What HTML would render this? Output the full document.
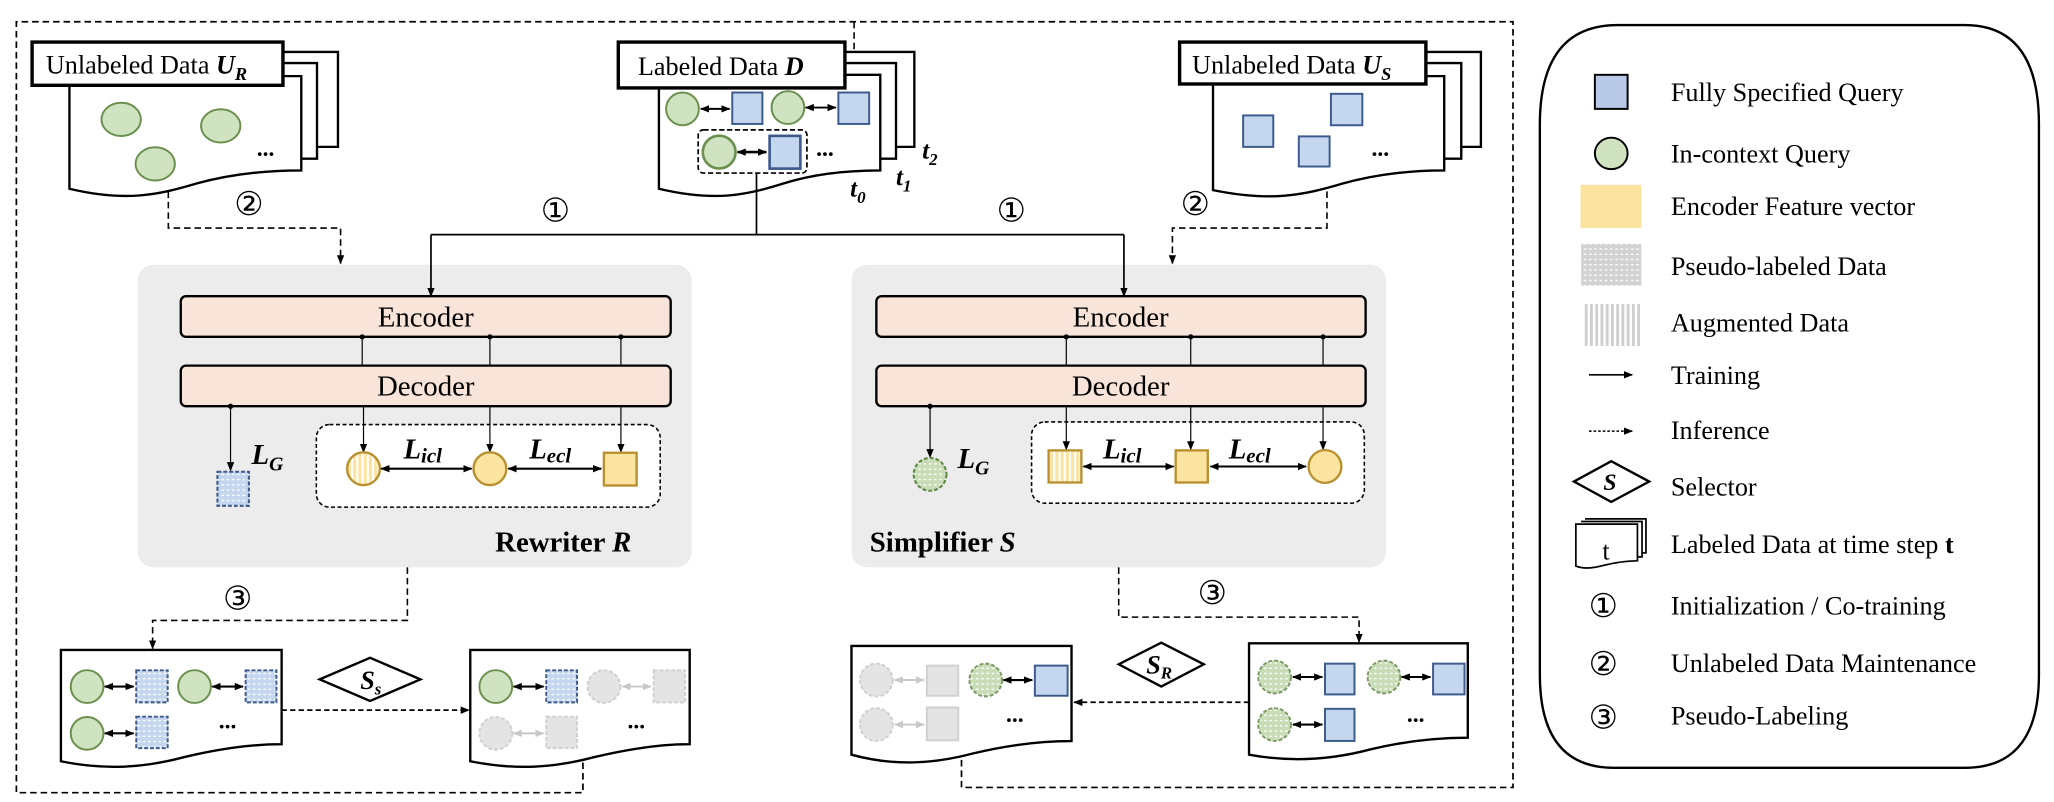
<!DOCTYPE html>
<html><head><meta charset="utf-8"><style>
html,body{margin:0;padding:0;background:#fff;}
svg{display:block;}
.t{font-family:"Liberation Serif",serif;fill:#000;}
.n{font-family:"DejaVu Sans",sans-serif;fill:#000;}
</style></head><body>
<svg width="2054" height="802" viewBox="0 0 1568 612" xmlns="http://www.w3.org/2000/svg">
<defs>
<marker id="ah" viewBox="0 0 10 10" refX="9" refY="5" markerWidth="7" markerHeight="7" markerUnits="userSpaceOnUse" orient="auto-start-reverse"><path d="M0,1 L10,5 L0,9 Z" fill="#000"/></marker>
<marker id="ahg" viewBox="0 0 10 10" refX="9" refY="5" markerWidth="7" markerHeight="7" markerUnits="userSpaceOnUse" orient="auto-start-reverse"><path d="M0,1 L10,5 L0,9 Z" fill="#c8c8c8"/></marker>
<pattern id="dotB" width="4" height="4" patternUnits="userSpaceOnUse"><rect width="4" height="4" fill="#c5d7ee"/><rect x="1" y="1.5" width="2" height="1" fill="#fff"/></pattern>
<pattern id="dotG" width="4" height="4" patternUnits="userSpaceOnUse"><rect width="4" height="4" fill="#c8dcb6"/><rect x="1" y="1.5" width="2" height="1" fill="#fff"/></pattern>
<pattern id="dotK" width="4" height="4" patternUnits="userSpaceOnUse"><rect width="4" height="4" fill="#d2d2d2"/><rect x="1" y="1.5" width="2" height="1" fill="#fff"/></pattern>
<pattern id="strY" width="4" height="4" patternUnits="userSpaceOnUse"><rect width="4" height="4" fill="#fbe3a0"/><rect width="1.6" height="4" fill="#fff"/></pattern>
<pattern id="strK" width="4" height="4" patternUnits="userSpaceOnUse"><rect width="4" height="4" fill="#cfcfcf"/><rect width="1.8" height="4" fill="#fff"/></pattern>
</defs>

<!-- panels first -->
<rect x="105" y="202" width="423" height="231" rx="12" fill="#ececec"/>
<rect x="650" y="202" width="408" height="231" rx="12" fill="#ececec"/>

<!-- outer dashed loop -->
<path d="M445,582 V605 H12.5 V16.5 H1155 V601 H734 V578" fill="none" stroke="#000" stroke-width="1.3" stroke-dasharray="5,3"/>
<line x1="652" y1="16.5" x2="652" y2="57" stroke="#000" stroke-width="1.2" stroke-dasharray="5,3" marker-end="url(#ah)"/>

<!-- U_R doc -->
<g fill="#fff" stroke="#000" stroke-width="1.8">
<path d="M216,39.5 H258 V112 H242"/>
<path d="M216,48 H242 V121 H230"/>
<path d="M53,58 H230 V130 C200,130 175,133 150,140 C120,149 95,154 53,144 Z"/>
<rect x="24.5" y="32" width="191.5" height="33" stroke-width="2.6"/>
</g>
<text class="t" x="35" y="56" font-size="20">Unlabeled Data <tspan font-weight="bold" font-style="italic">U</tspan><tspan font-weight="bold" font-style="italic" font-size="14" dy="5">R</tspan></text>
<g fill="#cfe3c0" stroke="#6b8f4e" stroke-width="1.5">
<ellipse cx="92.5" cy="91" rx="15" ry="12.7"/><ellipse cx="168.5" cy="96" rx="15" ry="12.7"/><ellipse cx="118.5" cy="125" rx="15" ry="12.7"/>
</g>
<text class="t" x="196" y="119" font-size="18" font-weight="bold">...</text>

<!-- Labeled D doc -->
<g fill="#fff" stroke="#000" stroke-width="1.8">
<path d="M645,39.5 H698 V112 H684"/>
<path d="M645,48 H684 V121 H672"/>
<path d="M503,57 H672 V130 C645,130 620,133 598,140 C570,149 545,154 503,144 Z"/>
<rect x="472" y="32" width="173" height="35" stroke-width="2.6"/>
</g>
<text class="t" x="487" y="57" font-size="20">Labeled Data <tspan font-weight="bold" font-style="italic">D</tspan></text>
<rect x="533" y="99" width="83" height="33" rx="4" fill="none" stroke="#000" stroke-width="1.3" stroke-dasharray="4,2"/>
<g fill="#cfe3c0" stroke="#6b8f4e" stroke-width="1.5"><circle cx="521" cy="83" r="12.5"/><circle cx="601.5" cy="82" r="12.5"/><circle cx="549" cy="116" r="12.5" stroke-width="2"/></g>
<g fill="#c5d7ee" stroke="#3c5a8c" stroke-width="1.5"><rect x="559" y="70.5" width="23" height="24"/><rect x="640" y="70.5" width="23.5" height="24"/><rect x="587.5" y="103.6" width="23.5" height="25" stroke-width="2"/></g>
<g stroke="#000" stroke-width="1.5"><line x1="535" y1="83" x2="557" y2="83" marker-start="url(#ah)" marker-end="url(#ah)"/><line x1="615" y1="82" x2="638" y2="82" marker-start="url(#ah)" marker-end="url(#ah)"/><line x1="563" y1="116" x2="585" y2="116" marker-start="url(#ah)" marker-end="url(#ah)" stroke-width="2"/></g>
<text class="t" x="623" y="119" font-size="18" font-weight="bold">...</text>
<g class="t" font-weight="bold" font-style="italic" font-size="19">
<text x="704" y="121">t<tspan font-size="13" dy="5">2</tspan></text>
<text x="684" y="141">t<tspan font-size="13" dy="5">1</tspan></text>
<text x="649" y="150">t<tspan font-size="13" dy="5">0</tspan></text>
</g>

<!-- U_S doc -->
<g fill="#fff" stroke="#000" stroke-width="1.8">
<path d="M1088.5,39.5 H1130.5 V112 H1115.5"/>
<path d="M1088.5,48 H1115.5 V121 H1102.5"/>
<path d="M926,58 H1102.5 V130 C1075,130 1050,133 1025,140 C995,149 970,154 926,145 Z"/>
<rect x="900.5" y="32" width="188" height="32" stroke-width="2.6"/>
</g>
<text class="t" x="910" y="56" font-size="20">Unlabeled Data <tspan font-weight="bold" font-style="italic">U</tspan><tspan font-weight="bold" font-style="italic" font-size="14" dy="5">S</tspan></text>
<g fill="#c5d7ee" stroke="#3c5a8c" stroke-width="1.5"><rect x="949" y="88" width="23" height="24"/><rect x="1016" y="71.5" width="24" height="24"/><rect x="991.5" y="104" width="23.5" height="23"/></g>
<text class="t" x="1047" y="119" font-size="18" font-weight="bold">...</text>

<!-- dashed ② lines -->
<path d="M128.5,146 V174 H260 V201" fill="none" stroke="#000" stroke-width="1.2" stroke-dasharray="5,3" marker-end="url(#ah)"/>
<path d="M1013,146 V174 H895 V201" fill="none" stroke="#000" stroke-width="1.2" stroke-dasharray="5,3" marker-end="url(#ah)"/>
<text class="n" x="190" y="164" font-size="25" text-anchor="middle">②</text>
<text class="n" x="912.5" y="164" font-size="25" text-anchor="middle">②</text>

<!-- ① lines -->
<path d="M577.5,132 V179" fill="none" stroke="#000" stroke-width="1.3"/>
<path d="M329,179 H858" fill="none" stroke="#000" stroke-width="1.3"/>
<line x1="329" y1="179" x2="329" y2="226" stroke="#000" stroke-width="1.3" marker-end="url(#ah)"/>
<line x1="858" y1="179" x2="858" y2="226" stroke="#000" stroke-width="1.3" marker-end="url(#ah)"/>
<text class="n" x="424" y="169" font-size="25" text-anchor="middle">①</text>
<text class="n" x="772" y="169" font-size="25" text-anchor="middle">①</text>

<g fill="#f8e4d8" stroke="#000" stroke-width="1.8">
<rect x="138" y="226" width="374" height="31" rx="4"/><rect x="138" y="279" width="374" height="31" rx="4"/>
<rect x="669" y="226" width="373.5" height="31" rx="4"/><rect x="669" y="279" width="373.5" height="31" rx="4"/>
</g>
<g class="t" font-size="22" text-anchor="middle">
<text x="325" y="249">Encoder</text><text x="325" y="302">Decoder</text>
<text x="855.5" y="249">Encoder</text><text x="855.5" y="302">Decoder</text>
</g>
<rect x="241.5" y="324" width="262.5" height="63" rx="10" fill="#fff" stroke="#000" stroke-width="1.2" stroke-dasharray="3,2"/>
<rect x="787.5" y="322" width="254" height="62" rx="10" fill="#fff" stroke="#000" stroke-width="1.2" stroke-dasharray="3,2"/>
<g stroke="#000" stroke-width="0.9" fill="none">
<path d="M276.5,257 V279 M374,257 V279 M474,257 V279 M814,257 V279 M909,257 V279 M1010,257 V279"/>
</g>
<g fill="#000"><circle cx="276.5" cy="257" r="2"/><circle cx="374" cy="257" r="2"/><circle cx="474" cy="257" r="2"/><circle cx="814" cy="257" r="2"/><circle cx="909" cy="257" r="2"/><circle cx="1010" cy="257" r="2"/><circle cx="176" cy="310" r="2"/><circle cx="710" cy="310" r="2"/></g>
<g stroke="#000" stroke-width="0.9">
<line x1="176" y1="310" x2="176" y2="359" marker-end="url(#ah)"/>
<line x1="277.5" y1="310" x2="277.5" y2="345" marker-end="url(#ah)"/>
<line x1="374" y1="310" x2="374" y2="345" marker-end="url(#ah)"/>
<line x1="474" y1="310" x2="474" y2="345" marker-end="url(#ah)"/>
<line x1="710" y1="310" x2="710" y2="349" marker-end="url(#ah)"/>
<line x1="814" y1="310" x2="814" y2="343" marker-end="url(#ah)"/>
<line x1="909" y1="310" x2="909" y2="343" marker-end="url(#ah)"/>
<line x1="1010" y1="310" x2="1010" y2="343" marker-end="url(#ah)"/>
</g>
<!-- left items -->
<rect x="166" y="360" width="24" height="26" fill="url(#dotB)" stroke="#3c5a8c" stroke-width="1.6" stroke-dasharray="3,1.5"/>
<g stroke="#b8902f" stroke-width="1.8">
<circle cx="277.5" cy="357.7" r="12.5" fill="url(#strY)"/>
<circle cx="374" cy="357.7" r="12.5" fill="#fbe3a0"/>
<rect x="461" y="345.5" width="25" height="25" fill="#fbe3a0"/>
</g>
<g stroke="#000" stroke-width="1.6">
<line x1="291" y1="357.7" x2="360" y2="357.7" marker-start="url(#ah)" marker-end="url(#ah)"/>
<line x1="388" y1="357.7" x2="459" y2="357.7" marker-start="url(#ah)" marker-end="url(#ah)"/>
</g>
<g class="t" font-weight="bold" font-style="italic" font-size="22">
<text x="192" y="354">L<tspan font-size="15" dy="5">G</tspan></text>
<text x="308" y="350">L<tspan font-size="16" dy="3">icl</tspan></text>
<text x="404" y="350">L<tspan font-size="16" dy="3">ecl</tspan></text>
<text x="731" y="357">L<tspan font-size="15" dy="5">G</tspan></text>
<text x="842" y="350">L<tspan font-size="16" dy="3">icl</tspan></text>
<text x="938" y="350">L<tspan font-size="16" dy="3">ecl</tspan></text>
</g>
<text class="t" x="378" y="421" font-size="22" font-weight="bold">Rewriter <tspan font-style="italic">R</tspan></text>
<text class="t" x="664" y="421" font-size="22" font-weight="bold">Simplifier <tspan font-style="italic">S</tspan></text>
<!-- right items -->
<ellipse cx="710" cy="362" rx="12.5" ry="12.5" fill="url(#dotG)" stroke="#5e8a45" stroke-width="1.6" stroke-dasharray="3,1.5"/>
<g stroke="#b8902f" stroke-width="1.8">
<rect x="800.5" y="343.7" width="25" height="24.5" fill="url(#strY)"/>
<rect x="897.5" y="343.7" width="24.5" height="24.5" fill="#fbe3a0"/>
<circle cx="1011.5" cy="356" r="12.5" fill="#fbe3a0"/>
</g>
<g stroke="#000" stroke-width="1.6">
<line x1="827" y1="356" x2="896" y2="356" marker-start="url(#ah)" marker-end="url(#ah)"/>
<line x1="924" y1="356" x2="997" y2="356" marker-start="url(#ah)" marker-end="url(#ah)"/>
</g>

<!-- ③ lines -->
<path d="M311,433 V473.5 H116.5 V495" fill="none" stroke="#000" stroke-width="1.2" stroke-dasharray="5,3" marker-end="url(#ah)"/>
<path d="M854,433 V471 H1037.5 V490" fill="none" stroke="#000" stroke-width="1.2" stroke-dasharray="5,3" marker-end="url(#ah)"/>
<text class="n" x="181.5" y="465" font-size="25" text-anchor="middle">③</text>
<text class="n" x="925.5" y="461" font-size="25" text-anchor="middle">③</text>

<!-- bottom docs -->
<g fill="#fff" stroke="#000" stroke-width="1.8">
<path d="M46.5,496 H215 V568 C190,568 165,572 140,578 C110,586 80,588 46.5,581 Z"/>
<path d="M359,496 H526.5 V568 C502,568 478,572 453,578 C423,586 393,588 359,581 Z"/>
<path d="M650,493 H818 V565.6 C792,565.6 768,569 743,575 C713,583 683,585 650,576 Z"/>
<path d="M953.5,491 H1120.5 V563 C1096,563 1071,566 1046,572 C1016,580 986,582 953.5,576 Z"/>
</g>
<!-- doc L1 -->
<g fill="#cfe3c0" stroke="#6b8f4e" stroke-width="1.5"><circle cx="66.5" cy="524" r="12.5"/><circle cx="148.5" cy="524" r="12.5"/><circle cx="66.5" cy="559.7" r="12.5"/><circle cx="378.5" cy="524" r="12.5"/></g>
<g fill="url(#dotB)" stroke="#3c5a8c" stroke-width="1.5" stroke-dasharray="3,1.5"><rect x="104" y="511.6" width="24" height="24.5"/><rect x="187.5" y="511.6" width="23.5" height="24.5"/><rect x="104" y="547" width="24" height="24"/><rect x="417" y="511.6" width="23.5" height="24.5"/></g>
<g stroke="#000" stroke-width="1.6">
<line x1="80" y1="524" x2="102" y2="524" marker-start="url(#ah)" marker-end="url(#ah)"/>
<line x1="162" y1="524" x2="185.5" y2="524" marker-start="url(#ah)" marker-end="url(#ah)"/>
<line x1="80" y1="559.7" x2="102" y2="559.7" marker-start="url(#ah)" marker-end="url(#ah)"/>
<line x1="392" y1="524" x2="415" y2="524" marker-start="url(#ah)" marker-end="url(#ah)"/>
</g>
<text class="t" x="167" y="556" font-size="18" font-weight="bold">...</text>
<!-- doc L2 gray -->
<g fill="#e4e4e4" stroke="#d0d0d0" stroke-width="1.5" stroke-dasharray="3,1.5"><circle cx="461" cy="524" r="12.5"/><circle cx="378.5" cy="559.7" r="12.5"/><rect x="499" y="511.6" width="24" height="24.5"/><rect x="417" y="547" width="23.5" height="24"/></g>
<g stroke="#c8c8c8" stroke-width="1.5">
<line x1="475" y1="524" x2="497" y2="524" marker-start="url(#ahg)" marker-end="url(#ahg)"/>
<line x1="392" y1="559.7" x2="415" y2="559.7" marker-start="url(#ahg)" marker-end="url(#ahg)"/>
</g>
<text class="t" x="479" y="556" font-size="18" font-weight="bold">...</text>
<!-- selector Ss -->
<path d="M244,518.5 L282.5,502 L321,518.5 L282.5,535 Z" fill="#fff" stroke="#000" stroke-width="1.8"/>
<text class="t" x="275" y="526" font-size="20" font-weight="bold" font-style="italic">S<tspan font-size="13" dy="4">s</tspan></text>
<line x1="215" y1="542" x2="358" y2="542" stroke="#000" stroke-width="1.3" stroke-dasharray="4,2.5" marker-end="url(#ah)"/>

<!-- doc R-right -->
<g fill="url(#dotG)" stroke="#7c9a66" stroke-width="1.5" stroke-dasharray="3,1.5"><circle cx="973" cy="516.7" r="12.5"/><circle cx="1056.5" cy="516.7" r="12.5"/><circle cx="973" cy="553" r="12.5"/><circle cx="752.5" cy="519" r="12.5"/></g>
<g fill="#c5d7ee" stroke="#3c5a8c" stroke-width="1.5"><rect x="1011.5" y="506.5" width="22.5" height="23.5"/><rect x="1094" y="506.5" width="24" height="23.5"/><rect x="1011.5" y="541" width="22.5" height="24.5"/><rect x="790" y="508" width="25" height="23"/></g>
<g stroke="#000" stroke-width="1.6">
<line x1="987" y1="516.7" x2="1009.5" y2="516.7" marker-start="url(#ah)" marker-end="url(#ah)"/>
<line x1="1070" y1="516.7" x2="1092" y2="516.7" marker-start="url(#ah)" marker-end="url(#ah)"/>
<line x1="987" y1="553" x2="1009.5" y2="553" marker-start="url(#ah)" marker-end="url(#ah)"/>
<line x1="766" y1="519" x2="788" y2="519" marker-start="url(#ah)" marker-end="url(#ah)"/>
</g>
<text class="t" x="1074" y="551" font-size="18" font-weight="bold">...</text>
<!-- doc R-left gray -->
<g fill="#e4e4e4" stroke="#d0d0d0" stroke-width="1.5" stroke-dasharray="3,1.5"><circle cx="669" cy="519" r="12.5"/><circle cx="669" cy="553" r="12.5"/></g>
<g fill="#e4e4e4" stroke="#d0d0d0" stroke-width="1.5"><rect x="707.5" y="508" width="24" height="23"/><rect x="707.5" y="540" width="24" height="25"/></g>
<g stroke="#c8c8c8" stroke-width="1.5">
<line x1="683" y1="519" x2="705.5" y2="519" marker-start="url(#ahg)" marker-end="url(#ahg)"/>
<line x1="683" y1="553" x2="705.5" y2="553" marker-start="url(#ahg)" marker-end="url(#ahg)"/>
</g>
<text class="t" x="768" y="551" font-size="18" font-weight="bold">...</text>
<!-- selector SR -->
<path d="M854,507 L886.5,490.5 L919,507 L886.5,524 Z" fill="#fff" stroke="#000" stroke-width="1.8"/>
<text class="t" x="875" y="514" font-size="20" font-weight="bold" font-style="italic">S<tspan font-size="13" dy="4">R</tspan></text>
<line x1="953.5" y1="536" x2="820" y2="536" stroke="#000" stroke-width="1.3" stroke-dasharray="4,2.5" marker-end="url(#ah)"/>

<!-- legend -->
<path d="M1235,19 H1500 Q1556.5,19 1556.5,95 V515 Q1556.5,586 1500,586 H1232 Q1175.5,586 1175.5,515 V95 Q1175.5,19 1235,19 Z" fill="#fff" stroke="#000" stroke-width="1.8"/>
<rect x="1217.5" y="57" width="25" height="26" fill="#b7c9e6" stroke="#000" stroke-width="1.5"/>
<ellipse cx="1230" cy="117" rx="12.5" ry="12" fill="#cfe3c0" stroke="#000" stroke-width="1.5"/>
<rect x="1206.5" y="141" width="46.5" height="33" fill="#fbe3a0"/>
<rect x="1207" y="186" width="46" height="32" fill="url(#dotK)"/>
<rect x="1209" y="232" width="44" height="32" fill="url(#strK)"/>
<line x1="1213" y1="286" x2="1246" y2="286" stroke="#000" stroke-width="1.2" marker-end="url(#ah)"/>
<line x1="1213" y1="329" x2="1246" y2="329" stroke="#000" stroke-width="1.2" stroke-dasharray="2,1.5" marker-end="url(#ah)"/>
<path d="M1201.5,367.5 L1230,352 L1259,367.5 L1230,383 Z" fill="#fff" stroke="#000" stroke-width="1.8"/>
<text class="t" x="1224" y="374" font-size="18" font-weight="bold" font-style="italic">S</text>
<g fill="#fff" stroke="#000" stroke-width="1.3">
<path d="M1210,396 H1256.5 V422 H1252"/>
<path d="M1207,398 H1253.5 V425 H1249"/>
<path d="M1203,400 H1250 V428 C1240,428 1230,430 1222,432 C1214,434 1208,434 1203,432 Z"/>
</g>
<text class="t" x="1226" y="427" font-size="20" text-anchor="middle">t</text>
<g class="n" font-size="25" text-anchor="middle"><text x="1224" y="471">①</text><text x="1224" y="515">②</text><text x="1224" y="556">③</text></g>
<g class="t" font-size="20">
<text x="1275.5" y="77">Fully Specified Query</text>
<text x="1275.5" y="124">In-context Query</text>
<text x="1275.5" y="164">Encoder Feature vector</text>
<text x="1275.5" y="210">Pseudo-labeled Data</text>
<text x="1275.5" y="253">Augmented Data</text>
<text x="1275.5" y="293">Training</text>
<text x="1275.5" y="335">Inference</text>
<text x="1275.5" y="378">Selector</text>
<text x="1275.5" y="422">Labeled Data at time step <tspan font-weight="bold">t</tspan></text>
<text x="1275.5" y="469">Initialization / Co-training</text>
<text x="1275.5" y="513">Unlabeled Data Maintenance</text>
<text x="1275.5" y="553">Pseudo-Labeling</text>
</g>
</svg>
</body></html>
